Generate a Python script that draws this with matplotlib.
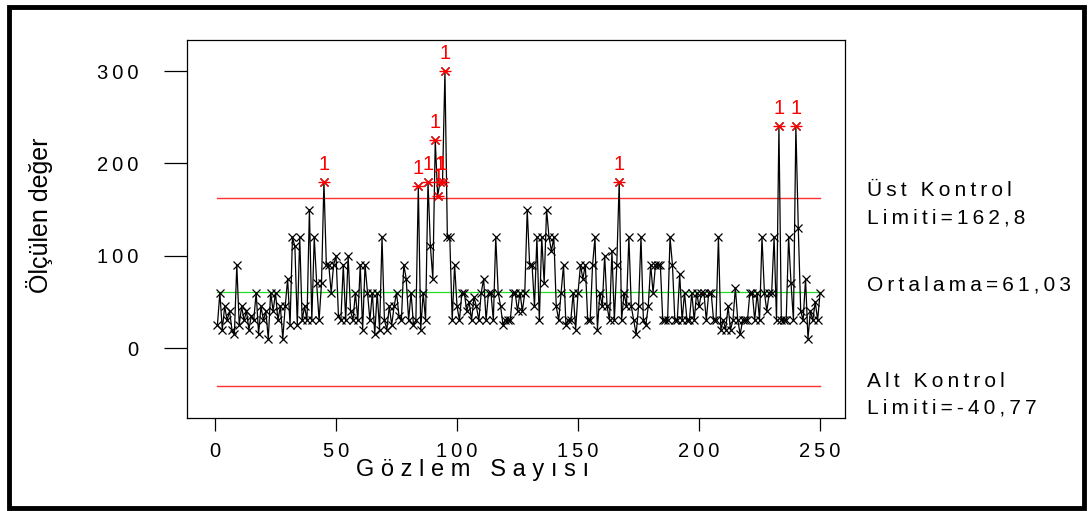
import numpy as np
import matplotlib
matplotlib.use("Agg")
import matplotlib.pyplot as plt
from matplotlib.patches import Rectangle

plt.rcParams['font.family'] = ['Liberation Sans', 'DejaVu Sans']

# Observation values (individual measurements)
values = [
    25, 60, 20, 45, 30, 40, 20, 15, 90, 25,
    45, 30, 40, 20, 35, 30, 60, 15, 45, 30,
    40, 10, 60, 40, 60, 30, 45, 10, 45, 75,
    25, 120, 110, 25, 120, 30, 45, 30, 150, 30,
    120, 70, 30, 70, 180, 90, 90, 60, 90, 100,
    35, 30, 90, 30, 100, 40, 30, 60, 30, 90,
    20, 90, 60, 30, 60, 15, 60, 20, 120, 30,
    20, 45, 25, 45, 60, 35, 30, 90, 75, 30,
    60, 25, 30, 175, 20, 60, 30, 180, 110, 75,
    225, 165, 180, 180, 300, 120, 120, 30, 90, 45,
    30, 60, 60, 40, 50, 30, 55, 45, 30, 60,
    75, 30, 60, 60, 30, 120, 60, 45, 25, 30,
    30, 30, 60, 60, 40, 60, 40, 60, 150, 90,
    90, 45, 120, 30, 120, 70, 150, 120, 105, 120,
    45, 30, 60, 90, 25, 30, 30, 60, 20, 60,
    90, 75, 90, 30, 30, 90, 120, 20, 60, 45,
    100, 45, 30, 105, 30, 90, 180, 30, 60, 45,
    120, 45, 30, 15, 45, 120, 30, 25, 45, 90,
    60, 90, 90, 90, 30, 30, 30, 120, 90, 30,
    30, 80, 30, 60, 30, 30, 60, 30, 60, 45,
    60, 60, 30, 60, 60, 30, 30, 120, 20, 30,
    20, 45, 20, 30, 65, 30, 15, 30, 30, 30,
    60, 60, 30, 60, 30, 120, 60, 40, 60, 60,
    120, 30, 240, 30, 30, 30, 120, 70, 30, 240,
    130, 40, 30, 75, 10, 40, 30, 50, 30, 60,
]
obs = np.arange(1, len(values) + 1)

ucl = 162.8
center = 61.03
lcl = -40.77

x_ticks = [0, 50, 100, 150, 200, 250]
y_ticks = [0, 100, 200, 300]

label_ucl = ["Üst Kontrol", "Limiti=162,8"]
label_center = "Ortalama=61,03"
label_lcl = ["Alt Kontrol", "Limiti=-40,77"]
y_title = "Ölçülen değer"
x_title = "Gözlem Sayısı"

W, H = 1092, 511
fig = plt.figure(figsize=(W / 100, H / 100), dpi=100)


def px(x, y):
    return x / W, 1 - y / H


def spaced(s, sep="\u2009"):
    return sep.join(s)


ax = fig.add_axes([186.7 / W, 1 - 417.7 / H, (845 - 186.7) / W, (417.7 - 40) / H])
ax.set_xlim(-11.7, 260.3)
ax.set_ylim(-75.5, 333.7)

# control limits and centre line
ax.plot([1, len(values)], [ucl, ucl], color="#ff3030", lw=1.0, zorder=2)
ax.plot([1, len(values)], [lcl, lcl], color="#ff3030", lw=1.0, zorder=2)
ax.plot([1, len(values)], [center, center], color="#22dd22", lw=0.9, zorder=2)

# observations
ax.plot(obs, values, color="black", lw=0.9, marker="x", ms=6, mew=0.9, zorder=3)

# points out of control
vals = np.array(values, dtype=float)
out = vals > ucl
ax.plot(obs[out], vals[out], ls="none", marker="x", ms=6, mew=1.0, color="red", zorder=4)
ax.plot(obs[out], vals[out], ls="none", marker="_", ms=9, mew=1.0, color="red", zorder=4)
for xo, yo in zip(obs[out], vals[out]):
    ax.annotate("1", (xo, yo), xytext=(0, 6), textcoords="offset points",
                ha="center", va="bottom", color="red", fontsize=14.5)

ax.set_xticks(x_ticks)
ax.set_yticks(y_ticks)
ax.set_xticklabels([spaced(str(t)) for t in x_ticks], fontsize=14.5)
ax.set_yticklabels([spaced(str(t)) for t in y_ticks], fontsize=14.5)
ax.tick_params(axis="x", length=9.4, width=0.9, pad=8)
ax.tick_params(axis="y", length=16.5, width=0.9, pad=18)
for s in ax.spines.values():
    s.set_linewidth(0.9)

# axis titles
fig.text(*px(40, 215), y_title, rotation=90, ha="center", va="center", fontsize=18)
fig.text(*px(473, 470), spaced(x_title, " "), ha="center", va="center", fontsize=17)

# limit annotations
fs = 15
fig.text(*px(867, 190), spaced(label_ucl[0]), ha="left", va="center", fontsize=fs)
fig.text(*px(867, 218), spaced(label_ucl[1]), ha="left", va="center", fontsize=fs)
fig.text(*px(867, 285), spaced(label_center), ha="left", va="center", fontsize=fs)
fig.text(*px(867, 381), spaced(label_lcl[0]), ha="left", va="center", fontsize=fs)
fig.text(*px(867, 408), spaced(label_lcl[1]), ha="left", va="center", fontsize=fs)

# outer frame
fig.patches.append(Rectangle((8.5 / W, 1 - 508 / H), (1084 - 8.5) / W, (508 - 7.5) / H,
                             transform=fig.transFigure, fill=False, lw=3.5,
                             edgecolor="black"))

fig.savefig("out.png", dpi=100)
